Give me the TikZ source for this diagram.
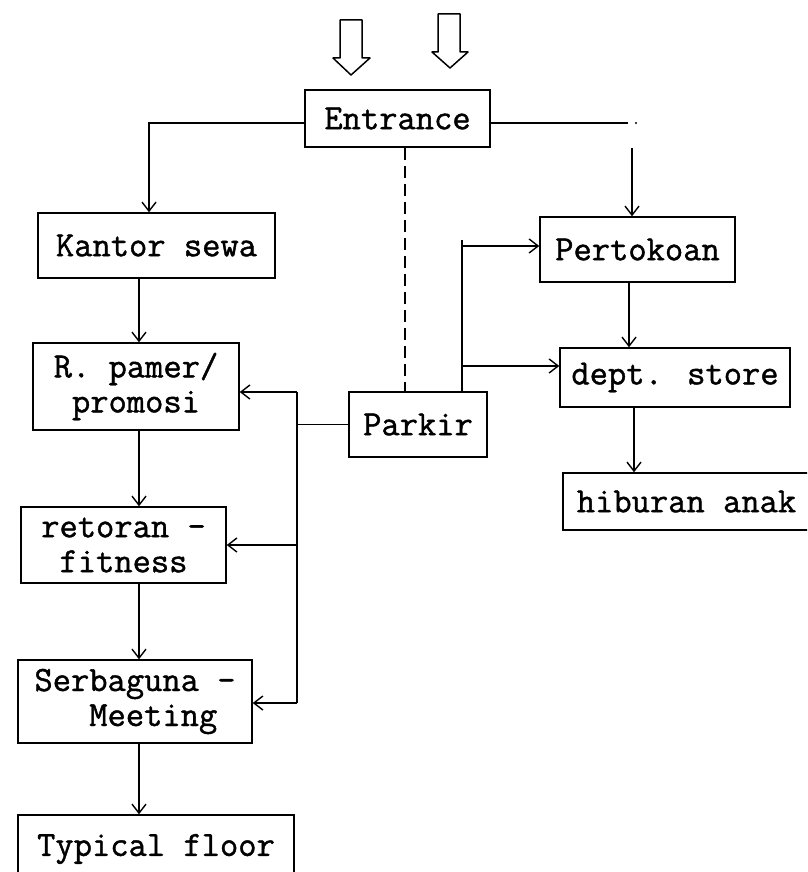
\documentclass[tikz,border=0pt]{standalone}
\usepackage{fontspec}
\newfontfamily\tw[FakeBold=1.2]{Latin Modern Mono}
\usetikzlibrary{arrows.meta}
\tikzset{
  box/.style={draw, line width=1.5pt, inner sep=0pt, font=\tw\fontsize{35.5}{35}\selectfont, align=left},
  ln/.style={line width=1.4pt},
  arr/.style={ln, -{Straight Barb[length=9pt,width=14pt,line width=1.4pt]}},
}
\begin{document}
\begin{tikzpicture}[x=1pt,y=-1pt]
\useasboundingbox (0,0) rectangle (807,872);
\clip (0,0) rectangle (807,872);
% boxes
\node[box, minimum width=185pt, minimum height=57pt] (ent) at (397.5,118.5) {Entrance};
\node[box, minimum width=237pt, minimum height=65pt] (kan) at (156.5,245.5) {Kantor sewa};
\node[box, minimum width=206pt, minimum height=87pt] (pam) at (136,386.5) {R. pamer/\\\phantom{R}promosi};
\node[box, minimum width=205pt, minimum height=76pt] (ret) at (123.5,545) {retoran -\\\phantom{r}fitness};
\node[box, minimum width=234pt, minimum height=83pt] (ser) at (135,701.5) {Serbaguna -\\\phantom{Ser}Meeting};
\node[box, minimum width=276pt, minimum height=68pt] (typ) at (156,849) {Typical floor};
\node[box, minimum width=138pt, minimum height=65pt] (par) at (418,424.5) {Parkir};
\node[box, minimum width=195pt, minimum height=65pt] (per) at (637.5,249.5) {Pertokoan};
\node[box, minimum width=230pt, minimum height=59pt] (dep) at (675,377.5) {dept. store};
\node[box, minimum width=247pt, minimum height=57pt] (hib) at (686.5,501.5) {hiburan anak};
% hollow entrance arrows
\draw[line width=1.5pt, line join=round] (340,20) -- (362,20) -- (362,58) -- (370,58) -- (351,75) -- (333,58) -- (340,58) -- cycle;
\draw[line width=1.5pt, line join=round] (438,14) -- (460,14) -- (460,52) -- (468,52) -- (450,68) -- (432,52) -- (438,52) -- cycle;
% coordinates
\coordinate (eL) at (149,123);
\coordinate (eR) at (628,123);
\coordinate (eDot) at (636,123);
\coordinate (pT) at (632,148);
\coordinate (cL) at (139,0);
\coordinate (vX) at (297,392);
\coordinate (vB) at (297,703);
\coordinate (rT) at (462,240);
\coordinate (r1) at (462,246);
\coordinate (r2) at (462,366);
\coordinate (dX) at (405,0);
% entrance connectors
\draw[arr] (ent.west |- eL) -| (eL |- kan.north);
\draw[ln] (ent.east |- eR) -- (eR);
\fill (eDot) circle (1.2pt);
\draw[arr] (pT) -- (pT |- per.north);
\draw[ln, dashed, dash pattern=on 12pt off 6pt] (dX |- ent.south) -- (dX |- par.north);
% left column
\draw[arr] (cL |- kan.south) -- (cL |- pam.north);
\draw[arr] (cL |- pam.south) -- (cL |- ret.north);
\draw[arr] (cL |- ret.south) -- (cL |- ser.north);
\draw[arr] (cL |- ser.south) -- (cL |- typ.north);
% parkir to left column
\draw[ln] (par.west) -- (vX |- par.west);
\draw[ln] (vX) -- (vB);
\draw[arr] (vX) -- (pam.east |- vX);
\draw[arr] (vX |- 0,545) -- (ret.east |- 0,545);
\draw[arr] (vB) -- (ser.east |- vB);
% parkir to right
\draw[ln] (rT |- par.north) -- (rT);
\draw[arr] (r1) -- (per.west |- r1);
\draw[arr] (r2) -- (dep.west |- r2);
% right column
\draw[ln] ([yshift=-29pt]per.north east) -- ([yshift=8pt]per.south east);
\draw[arr] (629,0 |- per.south) -- (629,0 |- dep.north);
\draw[arr] (634,0 |- dep.south) -- (634,0 |- hib.north);
\end{tikzpicture}
\end{document}
